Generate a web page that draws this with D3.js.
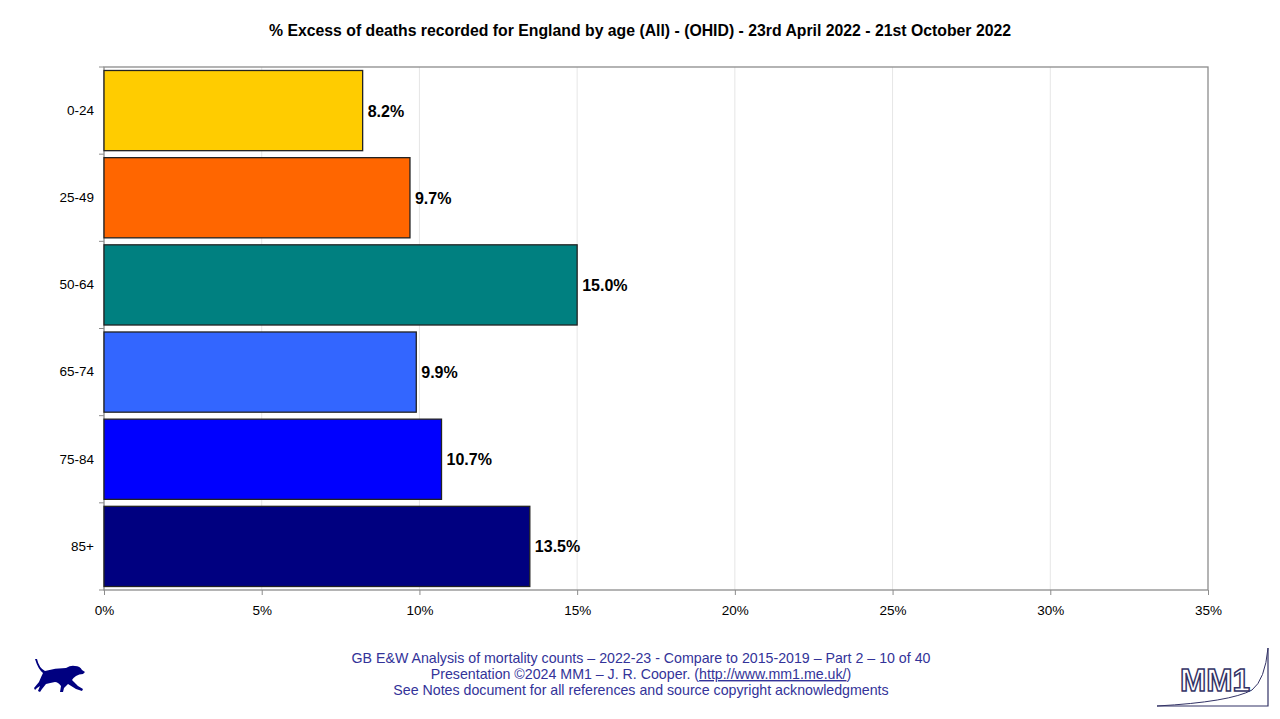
<!DOCTYPE html>
<html>
<head>
<meta charset="utf-8">
<script src="https://cdn.jsdelivr.net/npm/d3@7"></script>
<style>
  body { margin: 0; background: #fff; }
  text { font-family: "Liberation Sans", Arial, sans-serif; }
</style>
</head>
<body>
<svg id="chart" width="1280" height="719"></svg>
<script>
const ages = ["0-24", "25-49", "50-64", "65-74", "75-84", "85+"];
const excessPct = [8.2, 9.7, 15.0, 9.9, 10.7, 13.5];
const barColours = ["#FFCC00", "#FF6600", "#008080", "#3366FF", "#0000FF", "#000080"];
const xTicks = [0, 5, 10, 15, 20, 25, 30, 35];
const footerLines = [
    "GB E&W Analysis of mortality counts \u2013 2022-23 - Compare to 2015-2019 \u2013 Part 2 \u2013 10 of 40",
    "Presentation \u00a92024 MM1 \u2013 J. R. Cooper. (",
    "See Notes document for all references and source copyright acknowledgments"
];

const svg = d3.select("#chart");

let x_scale = d3.scaleLinear([0, 35], [104, 1208]);
let y_scale = d3.scaleBand(ages, [67, 590]).paddingInner(0.08).paddingOuter(0.04);

// title
svg.append("text")
    .attr("x", 640).attr("y", 36)
    .attr("text-anchor", "middle")
    .style("font-size", "15.8px").style("font-weight", "bold")
    .text("% Excess of deaths recorded for England by age (All) - (OHID) - 23rd April 2022 - 21st October 2022");

// gridlines
svg.selectAll(".grid")
    .data(xTicks.slice(1, -1))
    .enter()
    .append("line")
    .attr("class", "grid")
    .attr("x1", d => x_scale(d)).attr("x2", d => x_scale(d))
    .attr("y1", 67).attr("y2", 590)
    .attr("stroke", "#e6e6e6").style("stroke-width", "1px");

// plot border
svg.append("rect")
    .attr("x", 104).attr("y", 67)
    .attr("width", x_scale(35) - 104).attr("height", 523)
    .attr("fill", "none").attr("stroke", "#8c8c8c").style("stroke-width", "1.3px");

// bars
svg.selectAll(".bar")
    .data(ages)
    .enter()
    .append("rect")
    .attr("class", "bar")
    .attr("x", x_scale(0))
    .attr("y", d => y_scale(d))
    .attr("width", (d, i) => x_scale(excessPct[i]) - x_scale(0))
    .attr("height", y_scale.bandwidth())
    .attr("fill", (d, i) => barColours[i])
    .attr("stroke", "#222")
    .style("stroke-width", "1.3px");

// value labels
svg.selectAll(".val")
    .data(ages)
    .enter()
    .append("text")
    .attr("class", "val")
    .attr("x", (d, i) => x_scale(excessPct[i]) + 5)
    .attr("y", d => y_scale(d) + y_scale.bandwidth() / 2 + 6)
    .style("font-size", "16px").style("font-weight", "bold")
    .text((d, i) => excessPct[i].toFixed(1) + "%");

// y axis
const yAxis = svg.append("g")
    .attr("transform", "translate(104,0)")
    .call(d3.axisLeft(y_scale).tickSize(0).tickPadding(10));
yAxis.select(".domain").remove();
yAxis.selectAll("text").style("font-size", "13.5px").attr("fill", "#000")
    .style("font-family", "Liberation Sans, Arial, sans-serif");

// band boundary ticks on left
const bounds = ages.map(d => y_scale(d) - y_scale.step() * y_scale.paddingInner() / 2).concat([590]);
svg.selectAll(".ytick")
    .data(bounds)
    .enter()
    .append("line")
    .attr("x1", 99).attr("x2", 104)
    .attr("y1", d => d).attr("y2", d => d)
    .attr("stroke", "#8c8c8c");

// x axis
const xAxis = svg.append("g")
    .attr("transform", "translate(0,590)")
    .call(d3.axisBottom(x_scale).tickValues(xTicks).tickSize(5).tickPadding(10).tickFormat(d => d + "%"));
xAxis.select(".domain").remove();
xAxis.selectAll("line").attr("stroke", "#8c8c8c");
xAxis.selectAll("text").style("font-size", "13.5px").attr("fill", "#000")
    .style("font-family", "Liberation Sans, Arial, sans-serif");

// footer
const footer = svg.append("g").attr("fill", "#333399").style("font-size", "14.2px");
footer.append("text").attr("x", 641).attr("y", 663).attr("text-anchor", "middle").text(footerLines[0]);
const f2 = footer.append("text").attr("x", 641).attr("y", 679).attr("text-anchor", "middle");
f2.append("tspan").text(footerLines[1]);
f2.append("tspan").attr("text-decoration", "underline").text("http://www.mm1.me.uk/");
f2.append("tspan").text(")");
footer.append("text").attr("x", 641).attr("y", 695).attr("text-anchor", "middle").text(footerLines[2]);

// dog logo
svg.append("path")
    .attr("fill", "#000080")
    .attr("d", "M35 659 L37 659 Q39 668 45 671 Q55 668 66 668 Q71 665 75 666 Q80 666 82 670 L85 672 L83 674 Q79 674 76 676 Q73 678 72 680 L78 686 L83 689 L82 691 L76 689 L68 684 L64 688 L63 692 L60 692 L61 686 Q58 682 55 682 Q50 683 46 684 L42 689 L40 692 L38 691 L40 686 L37 688 L35 690 L34 688 L39 682 Q41 677 43 673 Q38 669 35 659 Z");

// MM1 logo
const logo = svg.append("g");
logo.append("path")
    .attr("fill", "none").attr("stroke", "#333366").style("stroke-width", "1.2px")
    .attr("d", "M1157 706 L1268 706 L1268 648");
logo.append("path")
    .attr("fill", "none").attr("stroke", "#333366").style("stroke-width", "1px")
    .attr("d", "M1157 706 Q1230 702 1252 690 Q1265 680 1268 648");
logo.append("text")
    .attr("x", 1215).attr("y", 691)
    .attr("text-anchor", "middle")
    .attr("fill", "#fff").attr("stroke", "#333366").style("stroke-width", "1.5px")
    .style("font-size", "32px").style("font-weight", "bold")
    .attr("textLength", 70).attr("lengthAdjust", "spacingAndGlyphs")
    .text("MM1");
</script>
</body>
</html>
